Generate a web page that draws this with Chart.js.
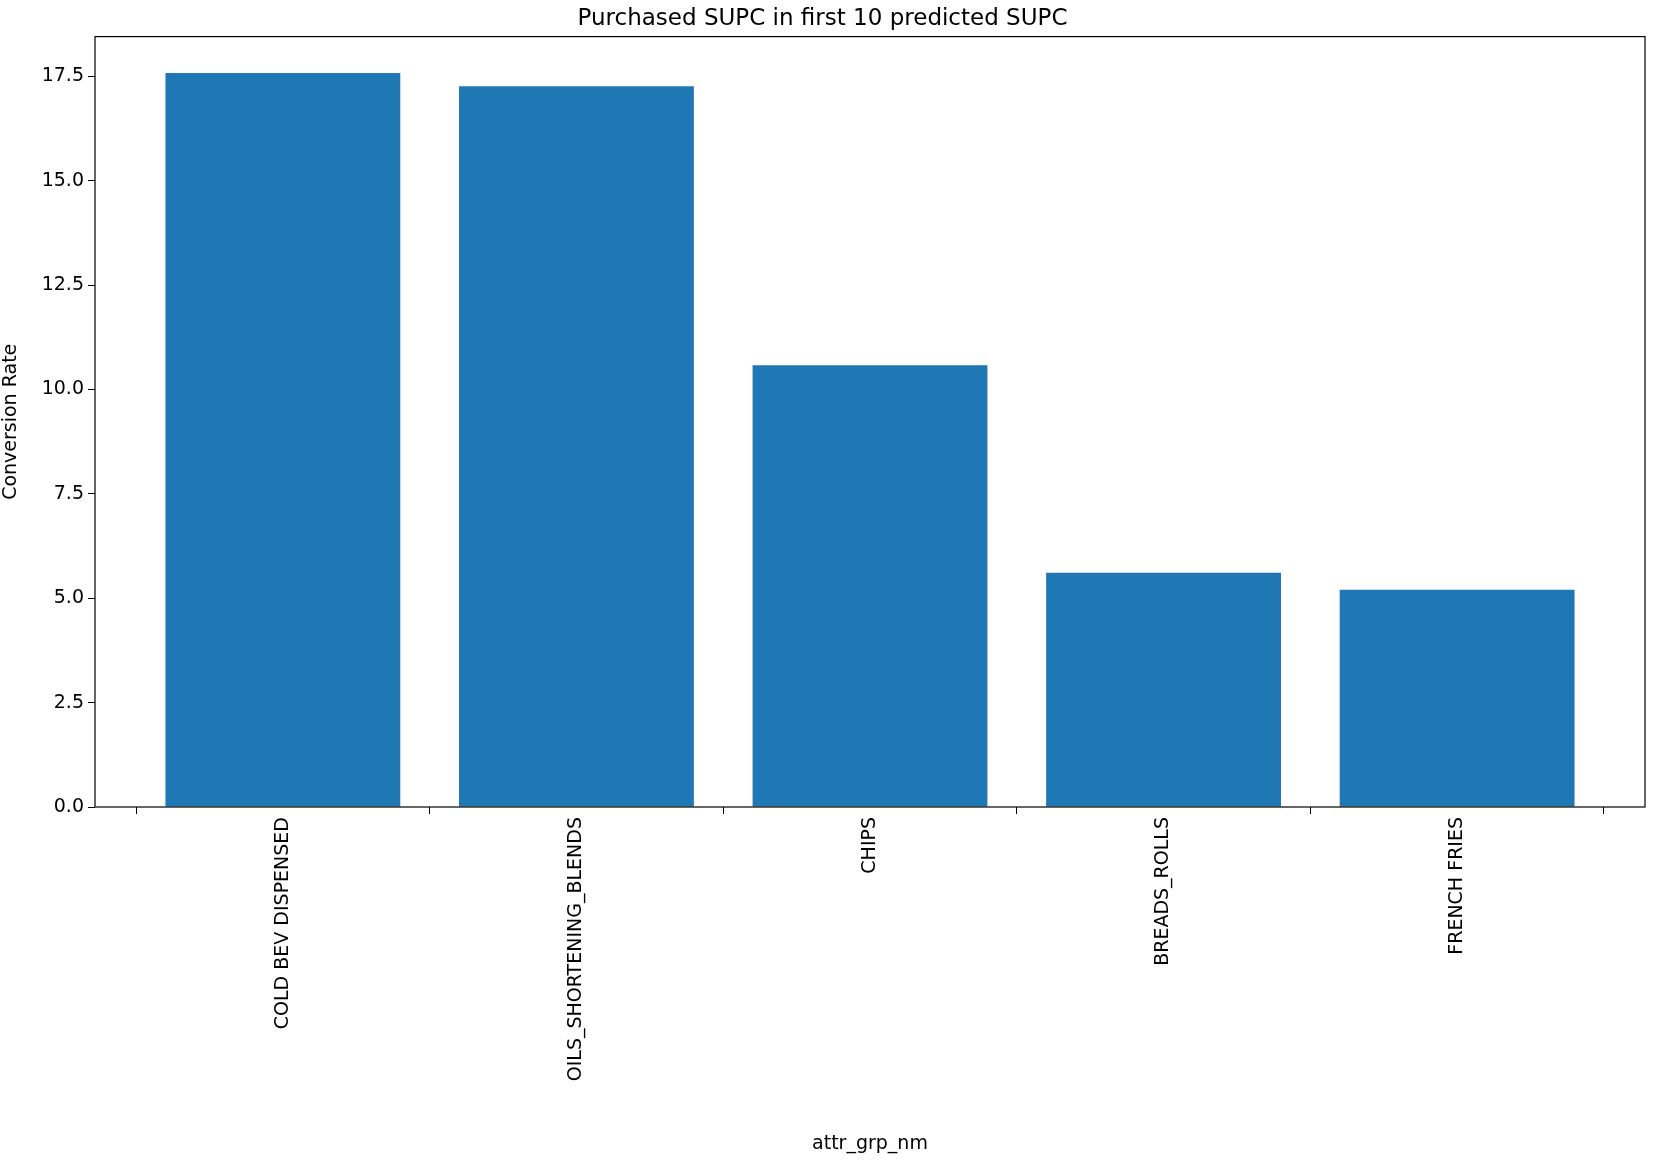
<!DOCTYPE html>
<html>
<head>
<meta charset="utf-8">
<script src="https://cdn.jsdelivr.net/npm/chart.js@4"></script>
<style>
  html, body { margin: 0; padding: 0; background: #fff; }
  #wrap { width: 1654px; height: 1161px; }
</style>
</head>
<body>
<div id="wrap"><canvas id="bar"></canvas></div>
<script>
var categories = ["COLD BEV DISPENSED", "OILS_SHORTENING_BLENDS", "CHIPS", "BREADS_ROLLS", "FRENCH FRIES"];
var conversion = [17.58, 17.26, 10.58, 5.61, 5.2];
var yTicks = [0, 2.5, 5, 7.5, 10, 12.5, 15, 17.5];

var points = [];
for (var i in conversion) {
  points.push({ x: Number(i), y: conversion[i] });
}

// box round the plot area, like matplotlib spines
var frame = {
  id: 'frame',
  afterDraw: function(chart) {
    var a = chart.chartArea, c = chart.ctx;
    c.save();
    c.strokeStyle = "#000";
    c.lineWidth = 1.2;
    c.strokeRect(a.left, a.top, a.right - a.left, a.bottom - a.top);
    c.restore();
  }
};

Chart.defaults.font.family = "DejaVu Sans";
Chart.defaults.color = "#000";

var ctx = document.getElementById("bar");
var barChart = new Chart(ctx, {
  type: 'bar',
  data: {
    datasets: [{
      data: points,
      backgroundColor: "#1f77b4",
      barPercentage: 0.8,
      categoryPercentage: 1.0
    }]
  },
  options: {
    responsive: true,
    maintainAspectRatio: false,
    animation: false,
    layout: { padding: { left: 0, right: 9, top: 0, bottom: 0 } },
    plugins: {
      legend: { display: false },
      tooltip: { enabled: false },
      title: {
        display: true,
        text: "Purchased SUPC in first 10 predicted SUPC",
        font: { size: 23, weight: 'normal' },
        padding: { top: 5, bottom: 4 }
      }
    },
    scales: {
      x: {
        type: 'linear',
        min: -0.64,
        max: 4.64,
        offset: false,
        grid: { drawOnChartArea: false, tickLength: 7, color: "#000" },
        border: { display: false },
        afterBuildTicks: function(axis) {
          axis.ticks = categories.map(function(c, k) { return { value: k }; });
        },
        afterFit: function(axis) { axis.height = 354; },
        ticks: {
          minRotation: 90,
          maxRotation: 90,
          autoSkip: false,
          font: { size: 19 },
          callback: function(v) { return categories[v]; }
        },
        title: {
          display: true,
          text: "attr_grp_nm",
          font: { size: 19 },
          padding: { top: 0, bottom: 6 }
        }
      },
      y: {
        min: 0,
        max: 18.45,
        grid: { drawOnChartArea: false, tickLength: 7, color: "#000" },
        border: { display: false },
        afterBuildTicks: function(axis) {
          axis.ticks = yTicks.map(function(v) { return { value: v }; });
        },
        afterFit: function(axis) { axis.width = 95; },
        ticks: {
          font: { size: 19 },
          padding: 4,
          callback: function(v) { return v.toFixed(1); }
        },
        title: {
          display: true,
          text: "Conversion Rate",
          font: { size: 19 },
          padding: { top: 0, bottom: 6 }
        }
      }
    }
  },
  plugins: [frame]
});
</script>
</body>
</html>
